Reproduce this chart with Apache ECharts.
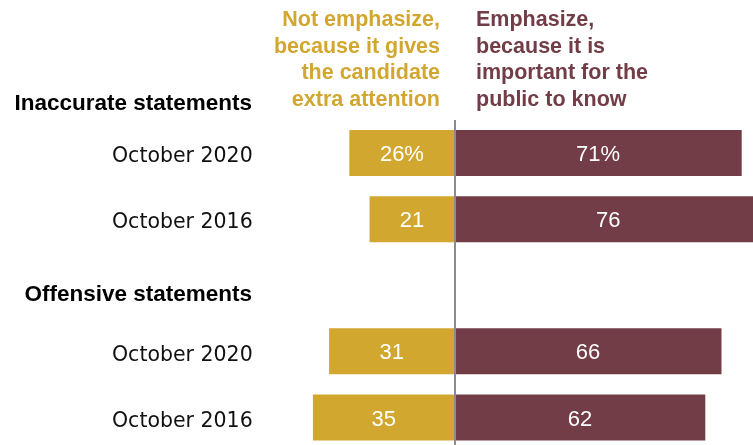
<!DOCTYPE html>
<html>
<head>
<meta charset="utf-8">
<title>Emphasize or not: candidate statements</title>
<script src="https://cdn.jsdelivr.net/npm/echarts@6/dist/echarts.min.js"></script>
<style>
  html, body { margin: 0; padding: 0; background: #ffffff; }
  #chart { width: 753px; height: 445px; }
</style>
</head>
<body>
<div id="chart"></div>
<script>
// Row labels (blank slot separates the two groups)
const categories = ['October 2020', 'October 2016', '', 'October 2020', 'October 2016'];
const groupHeadings = ['Inaccurate statements', 'Offensive statements'];

// Percent saying news media should NOT emphasize the statements
const notEmphasize = [26, 21, null, 31, 35];
// Percent saying news media should emphasize the statements
const emphasize = [71, 76, null, 66, 62];

const legendLeft = ['Not emphasize,', 'because it gives', 'the candidate', 'extra attention'];
const legendRight = ['Emphasize,', 'because it is', 'important for the', 'public to know'];

const GOLD = '#D2A72F';
const MAROON = '#733D47';

function valueLabel(p) {
  const v = Math.abs(p.value);
  return p.dataIndex === 0 ? v + '%' : String(v);
}

const barLabel = {
  show: true,
  position: 'inside',
  offset: [0, 2],
  color: '#fff',
  fontFamily: 'Liberation Sans',
  fontSize: 22,
  formatter: valueLabel
};

const chart = echarts.init(document.getElementById('chart'), null, { renderer: 'canvas' });

// The plot area runs a little past the right and bottom edges of the canvas,
// so the longest bar is cut off by the frame.
chart.setOption({
  animation: false,
  grid: {
    left: 292.7, top: 120, width: 485.4, height: 330.5,
    containLabel: false,
    outerBoundsMode: 'none'
  },
  xAxis: { type: 'value', min: -40, max: 80, show: false },
  yAxis: {
    type: 'category',
    inverse: true,
    data: categories,
    axisLine: { show: false },
    axisTick: { show: false },
    splitLine: { show: false },
    axisLabel: {
      margin: 40,
      formatter: v => (v ? '{row|' + v + '}' : ''),
      rich: {
        row: {
          color: '#111',
          fontFamily: 'DejaVu Sans',
          fontSize: 20.5,
          padding: [8, 0, 0, 0]
        }
      }
    }
  },
  series: [
    {
      name: 'Not emphasize',
      type: 'bar',
      barWidth: 46,
      barGap: '-100%',
      data: notEmphasize.map(v => (v == null ? null : -v)),
      itemStyle: { color: GOLD },
      label: barLabel
    },
    {
      name: 'Emphasize',
      type: 'bar',
      barWidth: 46,
      barGap: '-100%',
      data: emphasize,
      itemStyle: { color: MAROON },
      label: barLabel,
      markLine: {
        silent: true,
        symbol: 'none',
        label: { show: false },
        lineStyle: { color: '#8c8c8c', width: 2, type: 'solid' },
        data: [{ xAxis: 0 }]
      }
    }
  ],
  graphic: [
    {
      type: 'text', x: 440, y: 7,
      style: {
        text: legendLeft.join('\n'), align: 'right', textAlign: 'right',
        fill: GOLD, font: 'bold 21.5px "Liberation Sans"', lineHeight: 26.5
      }
    },
    {
      type: 'text', x: 476, y: 7,
      style: {
        text: legendRight.join('\n'), align: 'left', textAlign: 'left',
        fill: MAROON, font: 'bold 21.5px "Liberation Sans"', lineHeight: 26.5
      }
    },
    {
      type: 'text', x: 252, y: 92,
      style: { text: groupHeadings[0], align: 'right', textAlign: 'right', fill: '#000', font: 'bold 22.5px "Liberation Sans"' }
    },
    {
      type: 'text', x: 252, y: 283,
      style: { text: groupHeadings[1], align: 'right', textAlign: 'right', fill: '#000', font: 'bold 22.5px "Liberation Sans"' }
    }
  ]
});
</script>
</body>
</html>
